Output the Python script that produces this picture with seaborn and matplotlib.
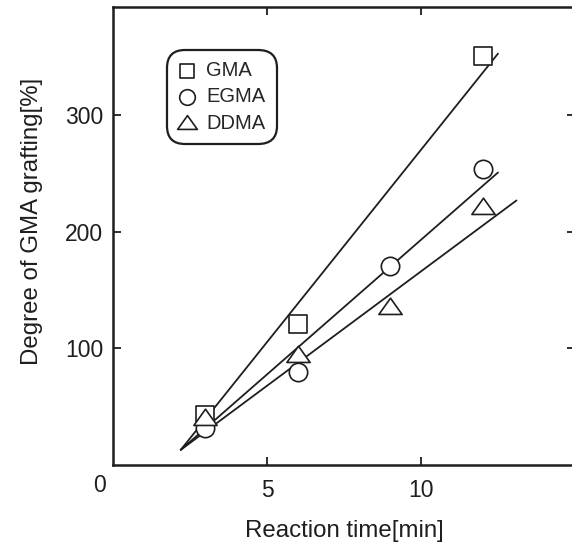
import numpy as np
import pandas as pd
import matplotlib
matplotlib.use("Agg")
import matplotlib.pyplot as plt
from matplotlib.path import Path
import seaborn as sns

# measured points (reaction time in min, degree of grafting in %)
gma_time = [3, 6, 12]
gma_grafting = [43, 121, 351]
egma_time = [3, 6, 9, 12]
egma_grafting = [32, 80, 171, 254]
ddma_time = [3, 6, 9, 12]
ddma_grafting = [40, 94, 136, 221]

# straight fit lines as drawn in the figure: (x start, x end), (y start, y end)
fit_names = ["GMA", "EGMA", "DDMA"]
fit_x = [[2.2, 12.5], [2.2, 12.5], [2.2, 13.1]]
fit_y = [[13, 353], [13, 251], [13, 227]]

series_order = ["GMA", "EGMA", "DDMA"]

df = pd.DataFrame({
    "time": gma_time + egma_time + ddma_time,
    "grafting": gma_grafting + egma_grafting + ddma_grafting,
    "monomer": ["GMA"] * len(gma_time) + ["EGMA"] * len(egma_time) + ["DDMA"] * len(ddma_time),
})

sns.set_style("ticks")
plt.rcParams["font.family"] = ["Liberation Sans", "DejaVu Sans"]

# wide open triangle like the original
tri = Path([(-1.25, -0.75), (1.25, -0.75), (0, 1.0), (-1.25, -0.75)],
           [Path.MOVETO, Path.LINETO, Path.LINETO, Path.CLOSEPOLY])
marker_map = {"GMA": "s", "EGMA": "o", "DDMA": tri}
size_map = {"GMA": 150, "EGMA": 175, "DDMA": 280}
ink = "#1e1e1e"

fig = plt.figure(figsize=(5.72, 5.46), dpi=100)
ax = fig.add_axes([113 / 572, 81 / 546, 462 / 572, 458 / 546])

for name, xs, ys in zip(fit_names, fit_x, fit_y):
    sns.lineplot(x=xs, y=ys, ax=ax, color=ink, linewidth=1.3)

for name in series_order:
    sub = df[df["monomer"] == name]
    sns.scatterplot(data=sub, x="time", y="grafting", ax=ax, marker=marker_map[name],
                    s=size_map[name], facecolor="white", edgecolor=ink,
                    linewidth=1.2, label=name, zorder=3)

ax.set_xlim(0, 15)
ax.set_ylim(0, 393)
ax.set_xticks([5, 10])
ax.set_yticks([100, 200, 300])
ax.tick_params(direction="in", top=True, right=True, length=6, width=1.3,
               labelsize=16.5, colors=ink)
ax.tick_params(axis="x", pad=10)
ax.tick_params(axis="y", pad=7)
for sp in ax.spines.values():
    sp.set_linewidth(1.8)
    sp.set_color(ink)

ax.annotate("0", xy=(0, 0), xytext=(-14, -20), textcoords="offset pixels",
            ha="center", va="center", fontsize=16.5, color=ink)

ax.set_xlabel("Reaction time[min]", fontsize=17.3, labelpad=13, color=ink)
ax.set_ylabel("Degree of GMA grafting[%]", fontsize=17.3, color=ink)
ax.yaxis.set_label_coords(-0.152, 0.533)

leg = ax.legend(loc="upper left", bbox_to_anchor=(0.117, 0.906), borderaxespad=0,
                fontsize=14.5, frameon=True, fancybox=True, handletextpad=0.5,
                borderpad=0.55, labelspacing=0.36, handlelength=0.9, markerscale=0.85)
leg.get_frame().set_edgecolor(ink)
leg.get_frame().set_linewidth(1.6)
leg.get_frame().set_alpha(1)
leg.get_frame().set_boxstyle("round", pad=0, rounding_size=0.9)

fig.savefig("out.png", dpi=100)
